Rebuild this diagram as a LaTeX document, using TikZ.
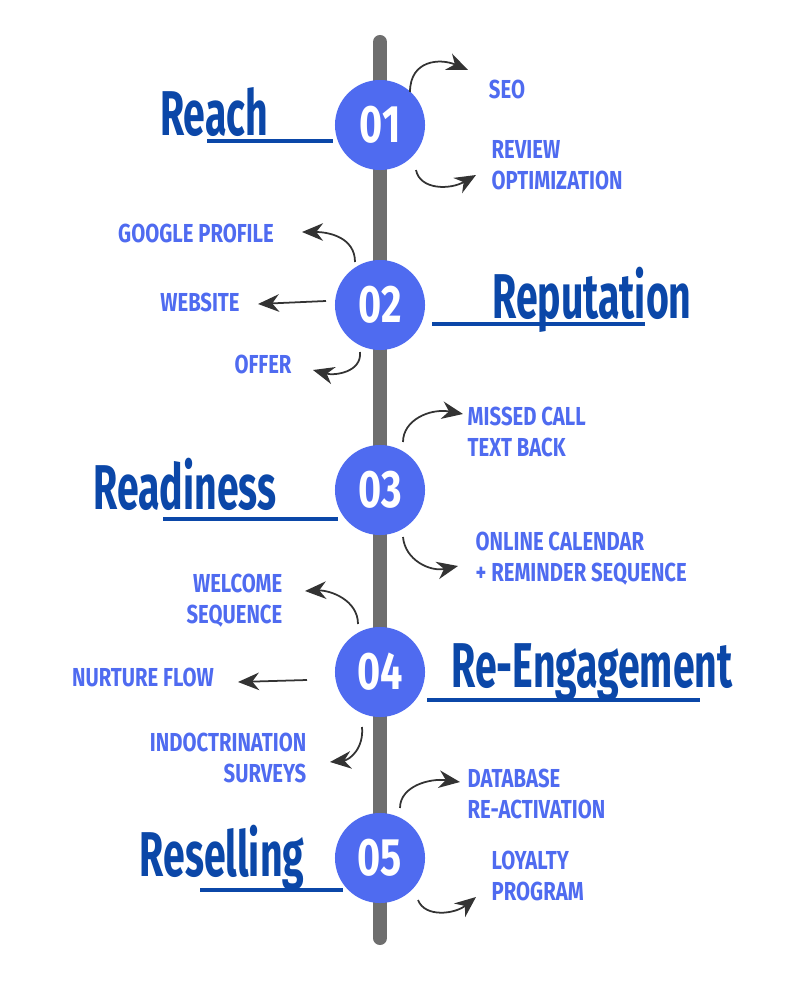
\documentclass[tikz,border=0pt]{standalone}
\usepackage{fontspec}
\setmainfont{Fira Sans}
\usetikzlibrary{arrows.meta}
\definecolor{stepblue}{HTML}{4F6BF0}
\definecolor{headblue}{HTML}{0B47A8}
\definecolor{spine}{HTML}{6E6E6E}
\newcommand\cond[2][0.62]{\scalebox{#1}[1]{#2}}
\newcommand\lblL[1]{\scalebox{0.78}[1]{\begin{tabular}{@{}l@{}}#1\end{tabular}}}
\newcommand\lblR[1]{\scalebox{0.78}[1]{\begin{tabular}{@{}r@{}}#1\end{tabular}}}
\begin{document}
\begin{tikzpicture}[x=0.01cm, y=-0.01cm, >={Stealth[length=6pt,width=5pt]},
  dot/.style={circle, fill=stepblue, minimum size=0.9cm, inner sep=0pt, text=white,
    font=\fontsize{15}{15}\selectfont\bfseries},
  head/.style={text=headblue, font=\fontsize{18}{18}\selectfont\bfseries},
  uline/.style={headblue, line width=1.3pt},
  item/.style={text=stepblue, inner sep=0pt, font=\fontsize{7.4}{8.8}\selectfont\bfseries},
  curl/.style={->, black!80, line width=0.5pt}]
\useasboundingbox (0,0) rectangle (800,1000);
% Spine
\draw [spine, line width=4pt, line cap=round] (380,42) -- (380,938);
% Steps
\node [dot] (s1) at (380,125) {\cond[0.75]{01}};
\node [dot] (s2) at (380,305) {\cond[0.75]{02}};
\node [dot] (s3) at (380,490) {\cond[0.75]{03}};
\node [dot] (s4) at (380,672) {\cond[0.75]{04}};
\node [dot] (s5) at (380,858) {\cond[0.75]{05}};
% Headings and underlines
\node [head] (h1) at (214,112) {\cond{Reach}};
\draw [uline] (207,141) -- (333,141);
\node [head] (h2) at (592,300) {\cond{Reputation}};
\draw [uline] (432,324) -- (645,324);
\node [head] (h3) at (185,484) {\cond{Readiness}};
\draw [uline] (163,519) -- (338,519);
\node [head] (h4) at (592,673) {\cond{Re-Engagement}};
\draw [uline] (427,700) -- (700,700);
\node [head] (h5) at (222,858) {\cond{Reselling}};
\draw [uline] (200,890) -- (343,890);
% Step 01
\node [item] (seo) at (507,92) {\lblL{SEO}};
\node [item, anchor=west] (rev) at (491,168) {\lblL{REVIEW\\OPTIMIZATION}};
\draw [curl] (410,92) .. controls (410,60) and (440,58) .. (468,70);
\draw [curl] (416,170) .. controls (420,190) and (450,190) .. (476,175);
% Step 02
\node [item] (goo) at (196,236) {\lblL{GOOGLE PROFILE}};
\node [item] (web) at (200,305) {\lblL{WEBSITE}};
\node [item] (off) at (263,367) {\lblL{OFFER}};
\draw [curl] (355,262) .. controls (355,238) and (330,232) .. (302,232);
\draw [curl] (326,301) -- (258,304);
\draw [curl] (360,352) .. controls (362,372) and (335,376) .. (313,370);
% Step 03
\node [item, anchor=west] (mis) at (467,435) {\lblL{MISSED CALL\\TEXT BACK}};
\node [item, anchor=west] (cal) at (475,560) {\lblL{ONLINE CALENDAR\\+ REMINDER SEQUENCE}};
\draw [curl] (403,442) .. controls (403,420) and (430,408) .. (463,414);
\draw [curl] (403,537) .. controls (405,560) and (430,572) .. (458,566);
% Step 04
\node [item, anchor=east] (wel) at (283,602) {\lblR{WELCOME\\SEQUENCE}};
\node [item] (nur) at (143,680) {\lblL{NURTURE FLOW}};
\node [item, anchor=east] (ind) at (307,761) {\lblR{INDOCTRINATION\\SURVEYS}};
\draw [curl] (358,624) .. controls (358,600) and (330,590) .. (305,591);
\draw [curl] (307,680) -- (238,682);
\draw [curl] (362,727) .. controls (364,748) and (350,760) .. (330,762);
% Step 05
\node [item, anchor=west] (dat) at (467,797) {\lblL{DATABASE\\RE-ACTIVATION}};
\node [item, anchor=west] (loy) at (491,879) {\lblL{LOYALTY\\PROGRAM}};
\draw [curl] (400,808) .. controls (400,786) and (430,778) .. (460,782);
\draw [curl] (418,900) .. controls (425,918) and (455,914) .. (476,897);
\end{tikzpicture}
\end{document}
